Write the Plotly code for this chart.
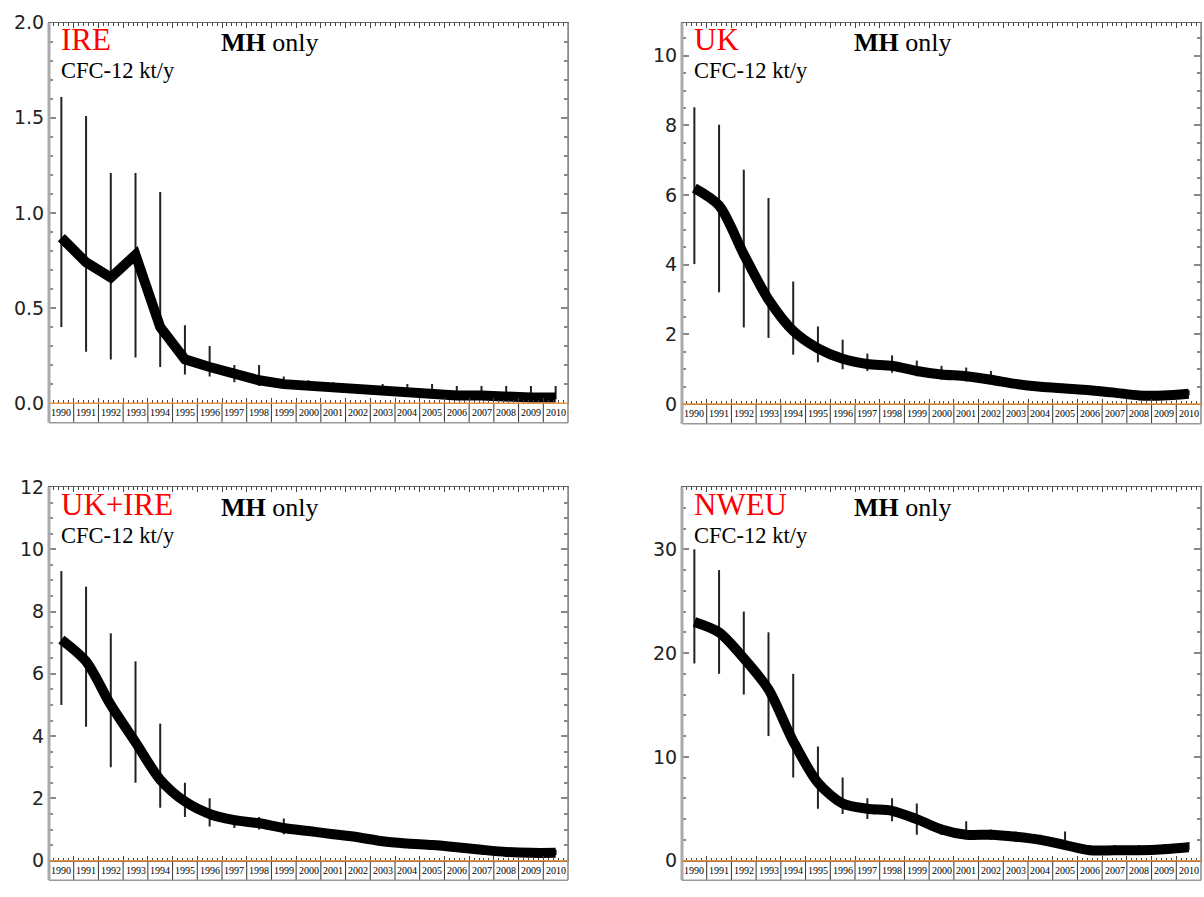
import plotly.graph_objects as go

# Years shown on every panel
years = list(range(1990, 2011))

# CFC-12 emissions (kt/y): central estimate and upper / lower bounds
ire_mean = [0.87, 0.74, 0.66, 0.78, 0.40, 0.23, 0.19, 0.15, 0.12, 0.10, 0.09,
            0.08, 0.07, 0.06, 0.06, 0.05, 0.04, 0.04, 0.03, 0.03, 0.03]
ire_hi = [1.61, 1.51, 1.21, 1.21, 1.11, 0.41, 0.30, 0.20, 0.20, 0.14, 0.12,
          0.11, 0.10, 0.10, 0.10, 0.10, 0.09, 0.09, 0.09, 0.09, 0.09]
ire_lo = [0.40, 0.27, 0.23, 0.24, 0.19, 0.15, 0.14, 0.11, 0.09, 0.08, 0.07,
          0.06, 0.05, 0.05, 0.04, 0.04, 0.03, 0.03, 0.02, 0.02, 0.02]

uk_mean = [6.2, 5.7, 4.3, 3.0, 2.1, 1.6, 1.3, 1.15, 1.1, 0.95, 0.85,
           0.8, 0.7, 0.58, 0.5, 0.45, 0.4, 0.33, 0.25, 0.25, 0.3]
uk_hi = [8.52, 8.02, 6.73, 5.92, 3.52, 2.23, 1.85, 1.45, 1.4, 1.25, 1.1,
         1.05, 0.95, 0.7, 0.6, 0.55, 0.5, 0.42, 0.35, 0.35, 0.4]
uk_lo = [4.02, 3.21, 2.2, 1.9, 1.42, 1.2, 1.0, 0.95, 0.9, 0.8, 0.7,
         0.65, 0.6, 0.5, 0.42, 0.38, 0.33, 0.27, 0.2, 0.2, 0.25]

ukire_mean = [7.1, 6.4, 5.0, 3.8, 2.6, 1.9, 1.5, 1.3, 1.2, 1.05, 0.95,
              0.85, 0.75, 0.62, 0.55, 0.5, 0.43, 0.35, 0.28, 0.25, 0.25]
ukire_hi = [9.3, 8.8, 7.3, 6.4, 4.4, 2.5, 2.0, 1.45, 1.4, 1.35, 1.1,
            1.0, 0.9, 0.75, 0.65, 0.6, 0.52, 0.45, 0.38, 0.35, 0.35]
ukire_lo = [5.0, 4.3, 3.0, 2.5, 1.7, 1.4, 1.1, 1.05, 1.0, 0.85, 0.8,
            0.7, 0.6, 0.5, 0.45, 0.4, 0.35, 0.28, 0.2, 0.18, 0.18]

nweu_mean = [23.0, 22.0, 19.5, 16.5, 11.5, 7.5, 5.5, 5.0, 4.8, 4.0, 3.0,
             2.5, 2.5, 2.3, 2.0, 1.5, 1.0, 1.0, 1.0, 1.1, 1.3]
nweu_hi = [30.0, 28.0, 24.0, 22.0, 18.0, 11.0, 8.0, 6.0, 6.0, 5.5, 3.5,
           3.8, 3.0, 2.8, 2.5, 2.8, 1.5, 1.5, 1.5, 1.6, 1.8]
nweu_lo = [19.0, 18.0, 16.0, 12.0, 8.0, 5.0, 4.5, 4.0, 3.8, 2.5, 2.5,
           2.2, 2.0, 1.8, 1.6, 1.2, 0.8, 0.8, 0.8, 0.9, 1.0]

region_names = ["IRE", "UK", "UK+IRE", "NWEU"]

W, H = 1204, 897
STRIP_PX = 20  # height of the year-label strip under each plot


def px_x(p):
    return p / W


def px_y(p):
    return 1 - p / H


panels = [
    dict(mean=ire_mean, hi=ire_hi, lo=ire_lo, box=(49, 568, 12, 402),
         yrange=[0, 2.0], dtick=0.5, minor=0.1, fmt=".1f", shape="linear"),
    dict(mean=uk_mean, hi=uk_hi, lo=uk_lo, box=(682, 1201, 12, 403),
         yrange=[0, 10.95], dtick=2, minor=0.5, fmt="d", shape="spline"),
    dict(mean=ukire_mean, hi=ukire_hi, lo=ukire_lo, box=(49, 568, 488, 871),
         yrange=[0, 12], dtick=2, minor=0.5, fmt="d", shape="spline"),
    dict(mean=nweu_mean, hi=nweu_hi, lo=nweu_lo, box=(682, 1201, 488, 871),
         yrange=[0, 36], dtick=10, minor=2, fmt="d", shape="spline"),
]

fig = go.Figure()
shapes = []
annotations = []
layout_axes = {}

serif = "Liberation Serif, Times New Roman, serif"

for i, (p, name) in enumerate(zip(panels, region_names), start=1):
    sfx = "" if i == 1 else str(i)
    xref, yref = "x" + sfx, "y" + sfx
    x0, x1, y0, y1 = p["box"]
    plot_h = y1 - y0
    strip = STRIP_PX / plot_h

    plus = [h - m for h, m in zip(p["hi"], p["mean"])]
    minus = [m - l for m, l in zip(p["mean"], p["lo"])]

    fig.add_trace(go.Scatter(
        x=years, y=p["mean"], xaxis=xref, yaxis=yref, mode="lines",
        line=dict(color="black", width=10, shape=p["shape"], smoothing=0.8),
        error_y=dict(type="data", symmetric=False, array=plus, arrayminus=minus,
                     color="#222222", thickness=2, width=0),
        showlegend=False, hoverinfo="skip",
    ))

    boundaries = [y - 0.5 for y in years] + [years[-1] + 0.5]

    layout_axes["xaxis" + sfx] = dict(
        domain=[px_x(x0), px_x(x1)], anchor=yref,
        range=[years[0] - 0.5, years[-1] + 0.5],
        showticklabels=False, showgrid=False, zeroline=False,
        showline=True, linecolor="#666666", linewidth=1, mirror="allticks",
        ticks="inside", tickvals=boundaries, ticklen=5, tickcolor="#444444",
        tickwidth=1,
        minor=dict(ticks="inside", ticklen=3, dtick=0.2, tick0=years[0] - 0.5,
                   tickcolor="#444444", tickwidth=1),
    )
    layout_axes["yaxis" + sfx] = dict(
        domain=[px_y(y1), px_y(y0)], anchor=xref,
        range=p["yrange"], dtick=p["dtick"], tick0=0, tickformat=p["fmt"],
        showgrid=False, zeroline=False,
        showline=True, linecolor="#888888", linewidth=1, mirror="allticks",
        ticks="inside", ticklen=7, tickcolor="#888888", tickwidth=1.5,
        minor=dict(ticks="inside", ticklen=4, dtick=p["minor"],
                   tickcolor="#888888", tickwidth=1.5),
        tickfont=dict(family="DejaVu Sans", size=19, color="#222222"),
    )

    dom_y = yref + " domain"
    dom_x = xref + " domain"
    # year strip: separators between years
    for b in boundaries[1:-1]:
        shapes.append(dict(type="line", xref=xref, yref=dom_y, x0=b, x1=b,
                           y0=-strip, y1=0, line=dict(color="#333333", width=1),
                           layer="above"))
    # strip bottom edge
    shapes.append(dict(type="line", xref=dom_x, yref=dom_y, x0=0, x1=1,
                       y0=-strip, y1=-strip, line=dict(color="#999999", width=1.5),
                       layer="above"))
    # left and right frame edges running through the strip
    shapes.append(dict(type="line", xref=dom_x, yref=dom_y, x0=0, x1=0,
                       y0=-strip, y1=1, line=dict(color="#aaaaaa", width=3),
                       layer="above"))
    shapes.append(dict(type="line", xref=dom_x, yref=dom_y, x0=1, x1=1,
                       y0=-strip, y1=1, line=dict(color="#888888", width=1.5),
                       layer="above"))
    # zero line
    shapes.append(dict(type="line", xref=dom_x, yref=dom_y, x0=0, x1=1,
                       y0=0, y1=0, line=dict(color="#e8913a", width=1.5),
                       layer="above"))

    for yr in years:
        annotations.append(dict(
            x=yr, y=-strip / 2, xref=xref, yref=dom_y, text=str(yr),
            showarrow=False, xanchor="center", yanchor="middle",
            font=dict(family=serif, size=10, color="black"),
        ))

    # panel labels
    top = y0 + 17 if y0 < 100 else y0 + 18
    annotations.append(dict(
        x=px_x(x0 + 10), y=px_y(top), xref="paper", yref="paper",
        text=name, showarrow=False, xanchor="left", yanchor="middle",
        font=dict(family=serif, size=31, color="#ff0000"),
    ))
    annotations.append(dict(
        x=px_x(x0 + 170), y=px_y(top + 3), xref="paper", yref="paper",
        text="<b>MH</b> only", showarrow=False, xanchor="left", yanchor="middle",
        font=dict(family=serif, size=26, color="black"),
    ))
    annotations.append(dict(
        x=px_x(x0 + 10), y=px_y(top + 32), xref="paper", yref="paper",
        text="CFC-12 kt/y", showarrow=False, xanchor="left", yanchor="middle",
        font=dict(family=serif, size=22.5, color="black"),
    ))

fig.update_layout(
    width=W, height=H,
    margin=dict(l=0, r=0, t=0, b=0),
    paper_bgcolor="white", plot_bgcolor="white",
    shapes=shapes, annotations=annotations,
    **layout_axes,
)

fig.write_html("out.html")
